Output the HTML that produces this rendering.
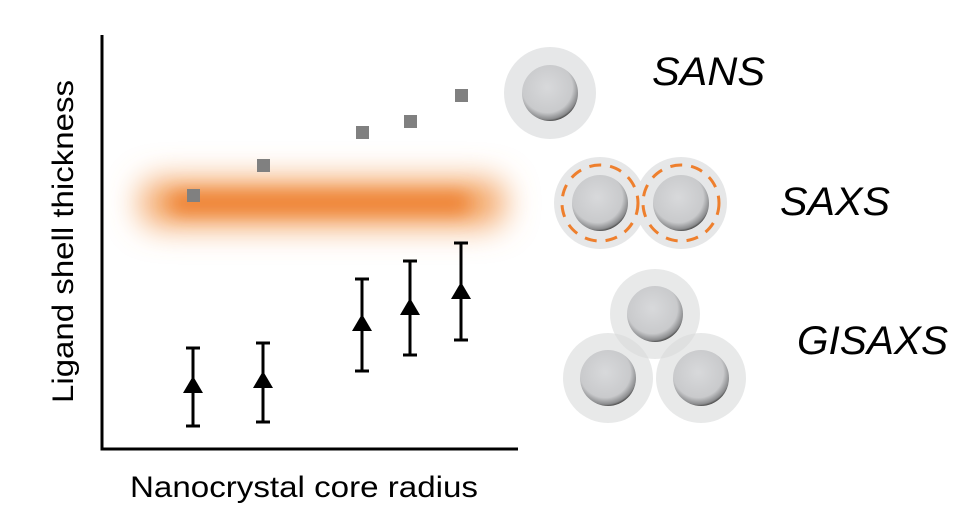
<!DOCTYPE html>
<html><head><meta charset="utf-8"><style>
html,body{margin:0;padding:0;background:#fff;width:976px;height:526px;overflow:hidden}
svg{display:block}
text{font-family:"Liberation Sans",Arial,sans-serif}
</style></head><body>
<svg width="976" height="526" viewBox="0 0 976 526" xmlns="http://www.w3.org/2000/svg">
<defs>
<filter id="blur" x="-30%" y="-300%" width="160%" height="700%"><feGaussianBlur stdDeviation="16"/></filter>
<filter id="blur2" x="-30%" y="-300%" width="160%" height="700%"><feGaussianBlur stdDeviation="9"/></filter>
<radialGradient id="core" cx="45%" cy="40%" r="60%">
<stop offset="0" stop-color="#d8d9db"/><stop offset="0.75" stop-color="#c9cacc"/><stop offset="0.95" stop-color="#8a8b8d"/><stop offset="1" stop-color="#555"/>
</radialGradient>
</defs>
<!-- orange band -->
<rect x="140" y="180" width="365" height="46" rx="20" fill="#f3a15f" filter="url(#blur)"/>
<rect x="170" y="193" width="300" height="20" rx="10" fill="#ee7f2d" filter="url(#blur2)"/>
<!-- axes -->
<path d="M102 35 V449 H518" fill="none" stroke="#000" stroke-width="3"/>
<!-- squares -->
<g fill="#808080">
<rect x="187" y="189" width="13" height="13"/>
<rect x="257" y="159" width="13" height="13"/>
<rect x="356" y="126" width="13" height="13"/>
<rect x="404" y="115" width="13" height="13"/>
<rect x="455" y="89" width="13" height="13"/>
</g>
<!-- error bars -->
<g stroke="#000" stroke-width="3" fill="none">
<path d="M193 348V426M186 348H200M186 426H200"/>
<path d="M263 343V422M256 343H270M256 422H270"/>
<path d="M362 279V371M355 279H369M355 371H369"/>
<path d="M410 261V355M403 261H417M403 355H417"/>
<path d="M461 243V340M454 243H468M454 340H468"/>
</g>
<g fill="#000">
<path d="M193 376L183 393H203Z"/>
<path d="M263 371L253 388H273Z"/>
<path d="M362 314L352 331H372Z"/>
<path d="M410 298L400 315H420Z"/>
<path d="M461 282L451 299H471Z"/>
</g>
<!-- SANS -->
<circle cx="550" cy="93" r="46" fill="#e6e7e8"/>
<circle cx="550" cy="93" r="28" fill="url(#core)"/>
<!-- SAXS -->
<circle cx="600" cy="203" r="46" fill="#e6e7e8"/>
<circle cx="681" cy="203" r="46" fill="#e6e7e8"/>
<circle cx="600" cy="203" r="28" fill="url(#core)"/>
<circle cx="681" cy="203" r="28" fill="url(#core)"/>
<circle cx="600" cy="203" r="38" fill="none" stroke="#ee7f2d" stroke-width="3" stroke-dasharray="12 9"/>
<circle cx="681" cy="203" r="38" fill="none" stroke="#ee7f2d" stroke-width="3" stroke-dasharray="12 9"/>
<!-- GISAXS -->
<g fill="#d9dadb" fill-opacity="0.6">
<circle cx="655" cy="314" r="45"/>
<circle cx="608" cy="378" r="45"/>
<circle cx="701" cy="378" r="45"/>
</g>
<circle cx="655" cy="314" r="28" fill="url(#core)"/>
<circle cx="608" cy="378" r="28" fill="url(#core)"/>
<circle cx="701" cy="378" r="28" fill="url(#core)"/>
<!-- labels -->
<g font-style="italic" font-size="40" fill="#000">
<text x="652" y="85" textLength="113" lengthAdjust="spacingAndGlyphs">SANS</text>
<text x="780" y="215" textLength="110" lengthAdjust="spacingAndGlyphs">SAXS</text>
<text x="797" y="354" textLength="151" lengthAdjust="spacingAndGlyphs">GISAXS</text>
</g>
<text x="130" y="497" font-size="30" textLength="348" lengthAdjust="spacingAndGlyphs">Nanocrystal core radius</text>
<text transform="translate(73,403) rotate(-90)" font-size="30" textLength="323" lengthAdjust="spacingAndGlyphs">Ligand shell thickness</text>
</svg>
</body></html>
